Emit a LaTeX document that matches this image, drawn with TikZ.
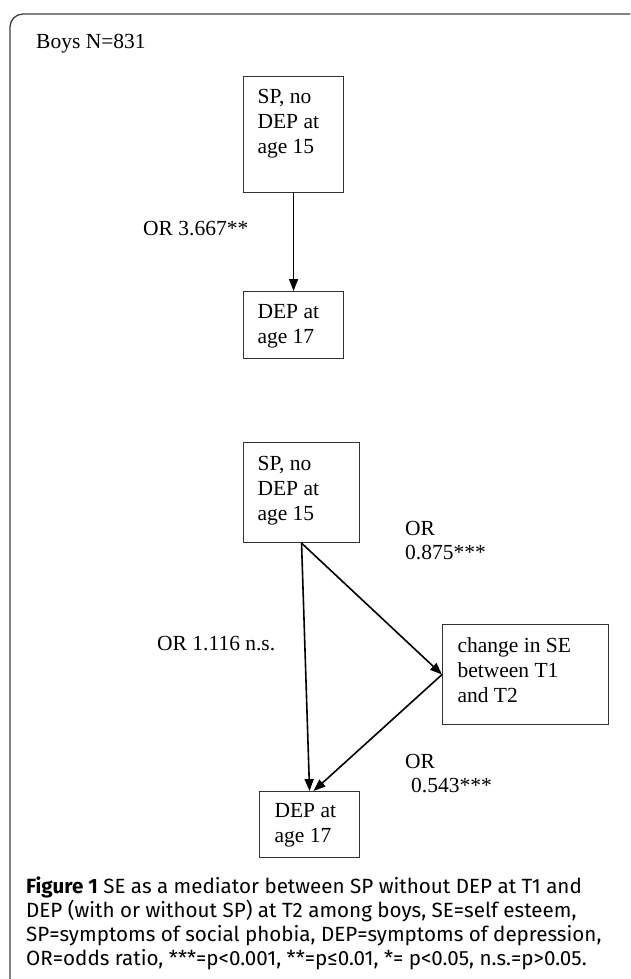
\documentclass[tikz,border=0pt]{standalone}
\usepackage{fontspec}
\setmainfont{Liberation Serif}
\newfontfamily\capfont{Fira Sans}
\usetikzlibrary{arrows.meta}
\newcommand{\bxt}[5]{\parbox[t][#2][t]{#1}{\raggedright\leftskip=#3\relax\rule{0pt}{#4}#5}}
\newcommand{\lbt}[1]{\parbox[t]{160pt}{\raggedright #1}}
\begin{document}
\begin{tikzpicture}[x=1pt,y=-1pt,
  serif/.style={font=\fontsize{21.5}{24.8}\selectfont},
  boxnode/.style={serif, draw=black!80, line width=1.1pt, inner sep=0pt, anchor=north west},
  arr/.style={line width=1.6pt, draw=black, -{Triangle[length=12pt,width=9pt]}},
  lbl/.style={serif, inner sep=0pt, anchor=base west},
  frameline/.style={draw=black!75, line width=1.3pt, rounded corners=13pt}
]
\useasboundingbox (0,0) rectangle (630,979);
\clip (0,0) rectangle (630,979);
\fill[white] (0,0) rectangle (630,979);
\draw[frameline] (10,14) rectangle (643,1010);

\node[lbl] (title) at (36,49) {Boys N=831};

% upper model
\node[boxnode] (b1) at (243,76) {\bxt{100pt}{116pt}{14pt}{27pt}{SP, no\\DEP at\\age 15}};
\node[boxnode] (b2) at (243,291) {\bxt{100pt}{67pt}{14pt}{27pt}{DEP at\\age 17}};
\draw[arr] (b1.south) -- (b2.north);
\node[lbl] (l1) at (143,235) {OR 3.667**};

% lower model
\node[boxnode] (b3) at (243,442) {\bxt{116pt}{100pt}{14pt}{28pt}{SP, no\\DEP at\\age 15}};
\node[boxnode] (b5) at (442,624) {\bxt{166pt}{100pt}{15pt}{28pt}{change in SE\\between T1\\and T2}};
\node[boxnode] (b4) at (259,791) {\bxt{100pt}{66pt}{15pt}{26pt}{DEP at\\age 17}};

\draw[arr] (b3.south) -- (b4.north);
\draw[arr] (b3.south) -- (b5.west);
\draw[arr] (b5.west) -- ([xshift=4pt]b4.north);

\node[lbl] (l2) at (405,535) {\lbt{OR\\0.875***}};
\node[lbl] (l3) at (157,650) {OR 1.116 n.s.};
\node[lbl] (l4) at (405,768) {\lbt{OR\\\hspace*{6pt}0.543***}};

% caption
\node[inner sep=0pt, anchor=base west, font=\capfont\fontsize{20.6}{24}\selectfont] (cap) at (26,893)
  {\parbox[t]{610pt}{\raggedright\textbf{Figure 1} SE as a mediator between SP without DEP at T1 and\\
  DEP (with or without SP) at T2 among boys, SE=self esteem,\\
  SP=symptoms of social phobia, DEP=symptoms of depression,\\
  OR=odds ratio, ***=p<0.001, **=p≤0.01, *= p<0.05, n.s.=p>0.05.}};
\end{tikzpicture}
\end{document}
